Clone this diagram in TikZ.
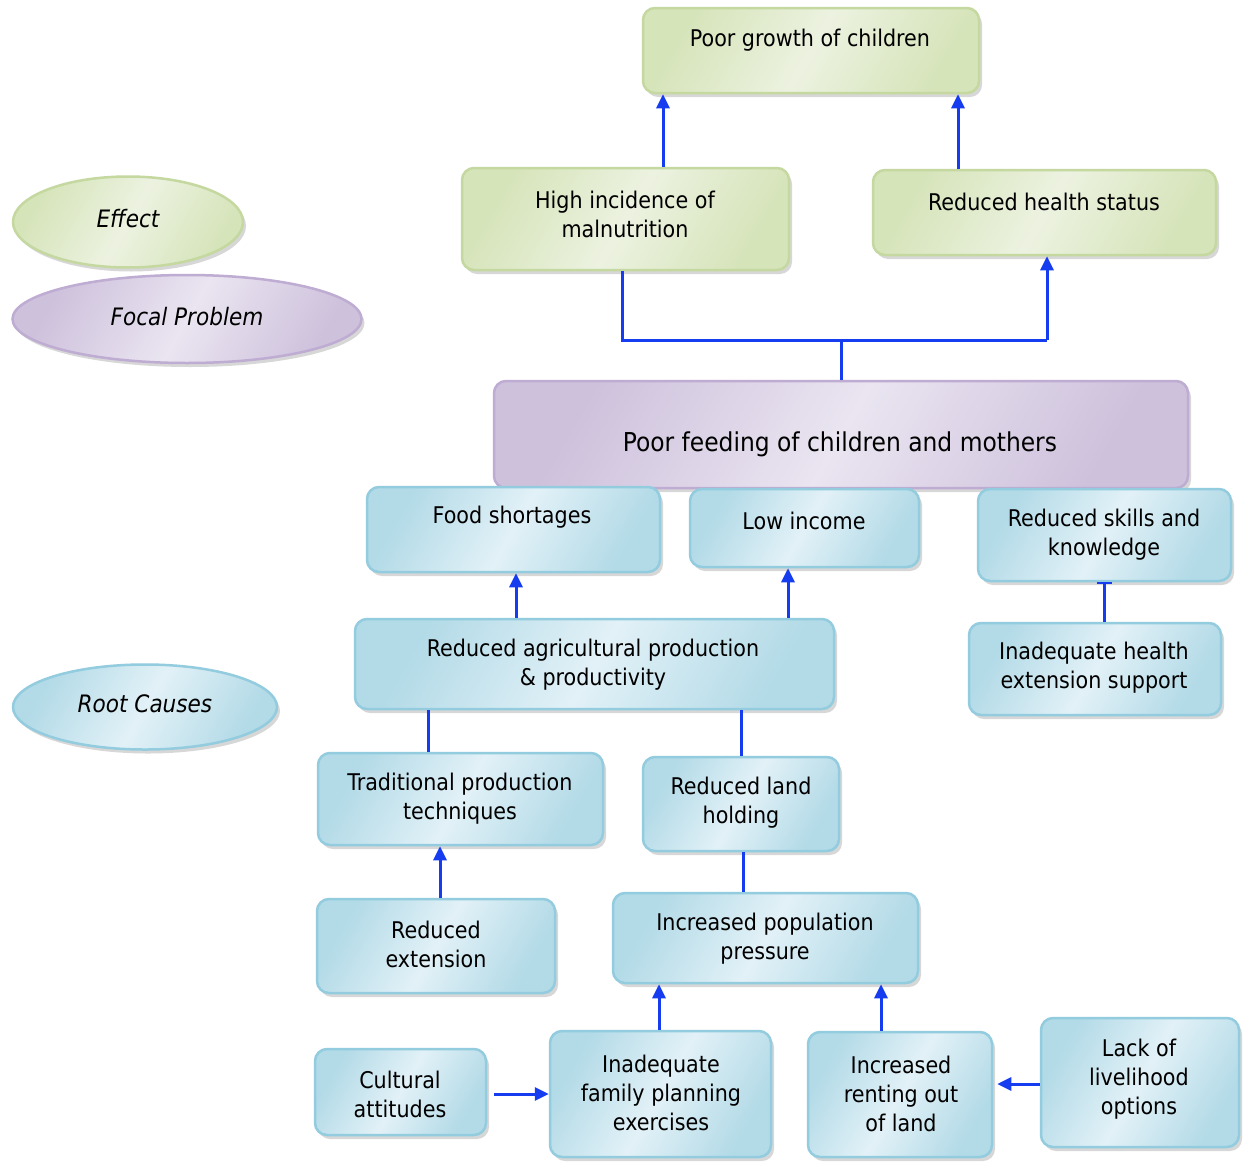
\documentclass[tikz,border=0pt]{standalone}
\usepackage{fontspec}
\setmainfont{DejaVu Sans Condensed}
\usetikzlibrary{shapes.geometric,shadows,arrows.meta,calc}
\definecolor{grnB}{RGB}{196,216,160}
\definecolor{grnD}{RGB}{214,228,186}
\definecolor{grnL}{RGB}{236,242,224}
\definecolor{purB}{RGB}{190,172,210}
\definecolor{purD}{RGB}{206,193,220}
\definecolor{purL}{RGB}{234,229,241}
\definecolor{bluB}{RGB}{146,204,222}
\definecolor{bluD}{RGB}{178,218,231}
\definecolor{bluL}{RGB}{226,241,247}
\definecolor{lineC}{RGB}{22,60,240}
\begin{document}
\begin{tikzpicture}[x=1pt,y=-1pt,
  box/.style={rectangle, rounded corners=12pt, line width=2.5pt, inner sep=0pt,
    drop shadow={shadow xshift=3pt, shadow yshift=-4pt, opacity=0.22, fill=black!70}},
  gbox/.style={box, draw=grnB, top color=grnD, bottom color=grnD, middle color=grnL, shading angle=60},
  pbox/.style={box, draw=purB, top color=purD, bottom color=purD, middle color=purL, shading angle=60},
  bbox/.style={box, draw=bluB, top color=bluD, bottom color=bluD, middle color=bluL, shading angle=60},
  oval/.style={ellipse, line width=2.5pt, inner sep=0pt,
    drop shadow={shadow xshift=3pt, shadow yshift=-4pt, opacity=0.22, fill=black!70}},
  txt/.style={align=center, inner sep=0pt, font=\fontsize{23}{29}\selectfont},
  itxt/.style={inner sep=0pt, font=\fontsize{24}{29}\selectfont\itshape},
  con/.style={draw=lineC, line width=3pt},
  arr/.style={con, -{Triangle[length=14pt,width=13pt]}},
  teearr/.style={con, -{Bar[width=15pt,line width=1.5pt]}}
]
\fill[white] (0,0) rectangle (1247,1162);
\useasboundingbox (0,0) rectangle (1247,1162);

% legend
\node[oval, draw=grnB, top color=grnD, bottom color=grnD, middle color=grnL, shading angle=60,
  minimum width=230pt, minimum height=91pt] (effect) at (128,222) {};
\node[itxt] (teffect) at (128,219) {Effect};
\node[oval, draw=purB, top color=purD, bottom color=purD, middle color=purL, shading angle=60,
  minimum width=349pt, minimum height=88pt] (focal) at (187,319) {};
\node[itxt] (tfocal) at (187,317) {Focal Problem};
\node[oval, draw=bluB, top color=bluD, bottom color=bluD, middle color=bluL, shading angle=60,
  minimum width=264pt, minimum height=85pt] (root) at (145,707) {};
\node[itxt] (troot) at (145,704) {Root Causes};

% effect boxes
\node[gbox, minimum width=336pt, minimum height=85pt] (pg) at (811,50.5) {};
\node[txt] (tpg) at (810,40) {Poor growth of children};
\node[gbox, minimum width=327pt, minimum height=102pt] (hi) at (625.5,219) {};
\node[txt] (thi) at (625,214) {High incidence of\\malnutrition};
\node[gbox, minimum width=343pt, minimum height=85pt] (rh) at (1044.5,212.5) {};
\node[txt] (trh) at (1044,202) {Reduced health status};

% focal problem
\node[pbox, minimum width=694pt, minimum height=107pt] (pf) at (841,434.5) {};
\node[txt, font=\fontsize{26}{31}\selectfont] (tpf) at (840,444) {Poor feeding of children and mothers};

% causes
\node[bbox, minimum width=293pt, minimum height=85pt] (fs) at (513.5,529.5) {};
\node[txt] (tfs) at (512,517) {Food shortages};
\node[bbox, minimum width=229pt, minimum height=78pt] (li) at (804.5,528) {};
\node[txt] (tli) at (804,521) {Low income};
\node[bbox, minimum width=253pt, minimum height=92pt] (rs) at (1104.5,535) {};
\node[txt] (trs) at (1104,534.5) {Reduced skills and\\knowledge};
\node[bbox, minimum width=479pt, minimum height=90pt] (ra) at (594.5,664) {};
\node[txt] (tra) at (593,664.5) {Reduced agricultural production\\\& productivity};
\node[bbox, minimum width=252pt, minimum height=92pt] (ih) at (1095,669) {};
\node[txt] (tih) at (1094,668) {Inadequate health\\extension support};
\node[bbox, minimum width=285pt, minimum height=92pt] (tp) at (460.5,799) {};
\node[txt] (ttp) at (460,799) {Traditional production\\techniques};
\node[bbox, minimum width=196pt, minimum height=94pt] (rl) at (741,804) {};
\node[txt] (trl) at (741,802.5) {Reduced land\\holding};
\node[bbox, minimum width=238pt, minimum height=94pt] (re) at (436,946) {};
\node[txt] (tre) at (436,944.5) {Reduced\\extension};
\node[bbox, minimum width=305pt, minimum height=90pt] (ip) at (765.5,938) {};
\node[txt] (tip) at (765,939) {Increased population\\pressure};
\node[bbox, minimum width=171pt, minimum height=86pt] (ca) at (400.5,1092) {};
\node[txt] (tca) at (400,1094.5) {Cultural\\attitudes};
\node[bbox, minimum width=221pt, minimum height=126pt] (fp) at (660.5,1094) {};
\node[txt] (tfp) at (661,1093) {Inadequate\\family planning\\exercises};
\node[bbox, minimum width=184pt, minimum height=125pt] (ro) at (900,1094.5) {};
\node[txt] (tro) at (901,1094) {Increased\\renting out\\of land};
\node[bbox, minimum width=198pt, minimum height=129pt] (ll) at (1140,1082.5) {};
\node[txt] (tll) at (1139,1079.5) {Lack of\\livelihood\\options};

% connectors
\coordinate (c1) at ([xshift=37.5pt]hi.north);
\draw[arr] (c1) -- (c1 |- pg.south);
\coordinate (c2) at ([xshift=-86.5pt]rh.north);
\draw[arr] (c2) -- (c2 |- pg.south);

\coordinate (fk) at (pf.north |- 0,340);
\coordinate (hl) at ([xshift=-3.5pt]hi.south);
\coordinate (hr) at ([xshift=2.5pt]rh.south);
\draw[con] (pf.north) -- (fk);
\draw[con] (hl) -- (hl |- fk) -- (hr |- fk);
\draw[arr] (hr |- fk) -- (hr);

\coordinate (c3) at ([xshift=-78.5pt]ra.north);
\draw[arr] (c3) -- (c3 |- fs.south);
\coordinate (c4) at ([xshift=193.5pt]ra.north);
\draw[arr] (c4) -- (c4 |- li.south);
\coordinate (c5) at ([xshift=9pt]ih.north);
\draw[teearr] (c5) -- (c5 |- rs.south);

\coordinate (c6) at ([xshift=-32.5pt]tp.north);
\draw[con] (c6) -- (c6 |- ra.south);
\draw[con] (rl.north) -- (rl.north |- ra.south);
\coordinate (c7) at ([xshift=4pt]re.north);
\draw[arr] (c7) -- (c7 |- tp.south);
\coordinate (c8) at ([xshift=-22.5pt]ip.north);
\draw[con] (c8) -- (c8 |- rl.south);
\coordinate (c9) at ([xshift=-1.5pt]fp.north);
\draw[arr] (c9) -- (c9 |- ip.south);
\coordinate (c10) at ([xshift=-19pt]ro.north);
\draw[arr] (c10) -- (c10 |- ip.south);

\coordinate (c11) at ([yshift=-2pt]ca.east);
\draw[arr, shorten <=7pt] (c11) -- (c11 -| fp.west);
\coordinate (c12) at ([yshift=-1.5pt]ll.west);
\draw[arr, shorten >=4pt] (c12) -- (c12 -| ro.east);
\end{tikzpicture}
\end{document}
